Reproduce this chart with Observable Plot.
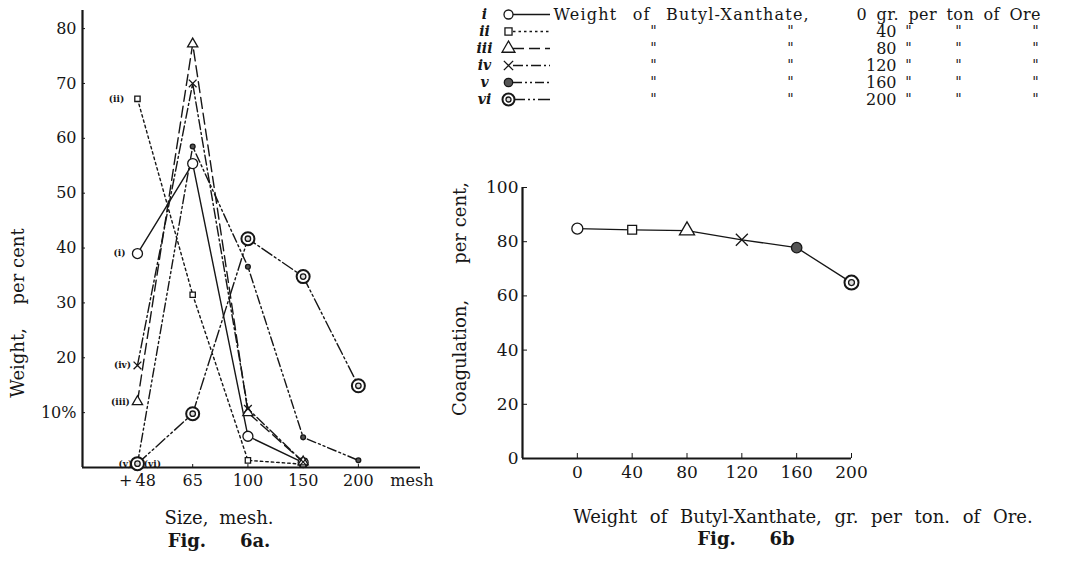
<!DOCTYPE html>
<html>
<head>
<meta charset="utf-8">
<script src="https://cdn.jsdelivr.net/npm/d3@7"></script>
<script src="https://cdn.jsdelivr.net/npm/@observablehq/plot@0.6"></script>
<style>
  body { margin: 0; background: #fff; }
  #page { position: relative; width: 1070px; height: 586px; overflow: hidden; background: #fff;
          font-family: "DejaVu Serif", serif; color: #161616; }
  .abs { position: absolute; }
  .cap { position: absolute; transform: translateX(-50%); white-space: nowrap; font-size: 18px;
         line-height: 18px; word-spacing: 5px; }
  .wide { word-spacing: 7px; }
  .fig { font-weight: bold; font-size: 18px; }
</style>
</head>
<body>
<div id="page">
  <div id="left" class="abs" style="left:0;top:0"></div>
  <div id="right" class="abs" style="left:430px;top:170px"></div>
  <div id="legend" class="abs" style="left:470px;top:0"></div>
  <div class="cap" style="left:219px;top:509px">Size, mesh.</div>
  <div class="cap fig" style="left:219px;top:532px">Fig.&nbsp;&nbsp; 6a.</div>
  <div class="cap wide" style="left:803px;top:508px">Weight of Butyl-Xanthate, gr. per ton. of Ore.</div>
  <div class="cap fig" style="left:746px;top:530px">Fig.&nbsp;&nbsp; 6b</div>
</div>
<script>
// ---------- data ----------
const meshLabels = ["+\u200948", "65", "100", "150", "200"];
const seriesNames = ["i", "ii", "iii", "iv", "v", "vi"];
const seriesLabels = ["(i)", "(ii)", "(iii)", "(iv)", "(v)", "(vi)"];
// Fig 6a: weight per cent retained at each mesh size (+48, 65, 100, 150, 200)
const sizeI   = [39.0, 55.4, 5.7, 0.9, null];
const sizeII  = [67.2, 31.5, 1.3, 0.6, null];
const sizeIII = [12.0, 77.2, 10.0, 1.0, null];
const sizeIV  = [18.6, 70.0, 10.7, 1.0, null];
const sizeV   = [0.7, 58.5, 36.6, 5.5, 1.3];
const sizeVI  = [0.7, 9.8, 41.7, 34.8, 14.9];
const sizeSeries = [sizeI, sizeII, sizeIII, sizeIV, sizeV, sizeVI];
// Fig 6b: coagulation per cent vs weight of butyl-xanthate
const doses = [0, 40, 80, 120, 160, 200];
const coagulation = [84.8, 84.4, 84.1, 80.7, 77.8, 64.9];
// ticks
const yTicksA = [10, 20, 30, 40, 50, 60, 70, 80];
const yTicksB = [0, 20, 40, 60, 80, 100];
const xTicksB = [0, 40, 80, 120, 160, 200];
const legendDose = ["0 gr. per ton of Ore", "40", "80", "120", "160", "200"];
const ditto = "\"";

// ---------- styles ----------
const ink = "#161616";
const font = "DejaVu Serif";
const dashes = [null, "2.5,3", "11,5", "10,3,2,3", "9,3,2,3,2,3", "12,3,2,3,2,3"];
const labelDx = [-18, -21, -17, -15, -12, 15];

function marker(k, data, opts, s) {
  const base = {stroke: ink, strokeWidth: 1.3, ...opts};
  switch (k) {
    case 0: return [Plot.dot(data, {...base, r: s.circle, fill: "white"})];
    case 1: return [Plot.dot(data, {...base, symbol: "square", r: s.square, fill: "white"})];
    case 2: return [Plot.dot(data, {...base, symbol: "triangle", r: s.triangle, fill: "white"})];
    case 3: return [Plot.dot(data, {...base, symbol: "times", r: s.times})];
    case 4: return [Plot.dot(data, {...base, r: s.filled, fill: "#555"})];
    case 5: return [
      Plot.dot(data, {...base, r: s.ring, fill: "white", strokeWidth: 2}),
      Plot.dot(data, {...base, r: s.ring * 0.42, fill: "#ddd", strokeWidth: 1.3})
    ];
  }
}

// ---------- Fig 6a ----------
const rowsA = sizeSeries.map((vals, k) =>
  vals.map((v, i) => ({series: seriesNames[k], k, i, value: v})).filter(d => d.value != null));
const xDomA = [-0.995, 5.36];
const yDomA = [0, 83.3];
const sizesA = {circle: 5, square: 3, triangle: 3.8, times: 3.6, filled: 2.4, ring: 6.5};

const left = Plot.plot({
  width: 440, height: 500,
  marginLeft: 82, marginRight: 7, marginTop: 10, marginBottom: 33,
  x: {domain: xDomA, axis: null},
  y: {domain: yDomA, axis: null},
  style: {fontFamily: font, color: ink, background: "transparent", overflow: "visible"},
  marks: [
    Plot.ruleX([xDomA[0]], {stroke: ink, strokeWidth: 2.2}),
    Plot.ruleY([yDomA[0]], {stroke: ink, strokeWidth: 2.2, insetRight: 13}),
    Plot.axisY(yTicksA, {tickSize: -3, tickPadding: 9, fontSize: 16, label: null,
      tickFormat: d => d === 10 ? "10%" : String(d)}),
    Plot.axisX(meshLabels.map((_, i) => i), {tickSize: -3, tickPadding: 10, fontSize: 16, label: null,
      tickFormat: i => meshLabels[i]}),
    Plot.text(["mesh"], {frameAnchor: "bottom-right", textAnchor: "end", lineAnchor: "top", dy: 7, fontSize: 16}),
    ...rowsA.map((rows, k) => Plot.line(rows, {x: "i", y: "value", stroke: ink, strokeWidth: 1.4,
      strokeDasharray: dashes[k]})),
    ...rowsA.flatMap((rows, k) => marker(k, rows, {x: "i", y: "value"}, sizesA)),
    Plot.text(rowsA.map(rows => rows[0]), {x: "i", y: "value", text: d => seriesLabels[d.k],
      fontSize: 9, fontWeight: "bold", fill: ink}),
    Plot.text(["Weight,\u2003 per cent"], {frameAnchor: "left", textAnchor: "middle", rotate: -90,
      dx: -64, dy: 74, fontSize: 18, fill: ink})
  ]
});
document.getElementById("left").append(left);
// per-series offsets of the (i)…(vi) labels
left.querySelectorAll("text").forEach(t => {
  const idx = seriesLabels.indexOf(t.textContent);
  if (idx >= 0) t.setAttribute("dx", labelDx[idx]);
});

// ---------- Fig 6b ----------
const rowsB = doses.map((d, k) => ({dose: d, value: coagulation[k], k}));
const xDomB = [-40, 200];
const yDomB = [0, 100];
const sizesB = {circle: 5.5, square: 5, triangle: 5.6, times: 5.5, filled: 5.2, ring: 7};

const right = Plot.plot({
  width: 460, height: 330,
  marginLeft: 92, marginRight: 39, marginTop: 17, marginBottom: 42,
  x: {domain: xDomB, axis: null},
  y: {domain: yDomB, axis: null},
  style: {fontFamily: font, color: ink, background: "transparent", overflow: "visible"},
  marks: [
    Plot.ruleX([xDomB[0]], {stroke: ink, strokeWidth: 2.2}),
    Plot.ruleY([yDomB[0]], {stroke: ink, strokeWidth: 2.2}),
    Plot.axisY(yTicksB, {tickSize: -5, tickPadding: 9, fontSize: 17, label: null}),
    Plot.axisX(xTicksB, {tickSize: -5, tickPadding: 12, fontSize: 17, label: null}),
    Plot.line(rowsB, {x: "dose", y: "value", stroke: ink, strokeWidth: 1.3}),
    ...rowsB.flatMap(r => marker(r.k, [r], {x: "dose", y: "value"}, sizesB)),
    Plot.text(["Coagulation,\u2003\u2003per cent,"], {frameAnchor: "left", textAnchor: "middle", rotate: -90,
      dx: -62, dy: -24, fontSize: 18, fill: ink})
  ]
});
document.getElementById("right").append(right);

// ---------- Legend ----------
const sizesL = {circle: 4.5, square: 4, triangle: 4.8, times: 4.3, filled: 4.2, ring: 6};
const legendRows = seriesNames.map((s, k) => ({s, k}));
const legend = Plot.plot({
  width: 600, height: 112,
  marginLeft: 0, marginRight: 0, marginTop: 12, marginBottom: 11,
  y: {type: "point", domain: seriesNames, padding: 0, axis: null},
  style: {fontFamily: font, color: ink, background: "transparent", overflow: "visible"},
  marks: [
    Plot.text(legendRows, {y: "s", text: "s", frameAnchor: "left", textAnchor: "middle", dx: 14,
      fontStyle: "italic", fontWeight: "bold", fontSize: 14, fill: ink}),
    ...legendRows.map(r => Plot.ruleY([r.s], {stroke: ink, strokeWidth: 1.3, insetLeft: 43, insetRight: 520,
      strokeDasharray: dashes[r.k]})),
    ...legendRows.flatMap(r => marker(r.k, [r], {y: "s", frameAnchor: "left", dx: 38}, sizesL)),
    Plot.text(legendRows.slice(0, 1), {y: "s", text: () => "Weight of Butyl-Xanthate,", frameAnchor: "left",
      dx: 83, textAnchor: "start", fontSize: 16, fill: ink}),
    Plot.text(legendRows.slice(0, 1), {y: "s", text: () => legendDose[0], frameAnchor: "left",
      dx: 386, textAnchor: "start", fontSize: 16, fill: ink}),
    Plot.text(legendRows.slice(1), {y: "s", text: r => legendDose[r.k], frameAnchor: "left",
      dx: 426, textAnchor: "end", fontSize: 16, fill: ink}),
    ...[183, 320, 438, 488, 565].map(dx => Plot.text(legendRows.slice(1), {y: "s", text: () => ditto,
      frameAnchor: "left", textAnchor: "middle", dx, fontSize: 14, fontStyle: "italic", fill: ink}))
  ]
});
document.getElementById("legend").append(legend);
legend.querySelectorAll("text").forEach(t => {
  if (t.textContent.startsWith("Weight")) t.setAttribute("style", "word-spacing:9px;letter-spacing:1.2px");
  if (t.textContent.startsWith("0 gr")) t.setAttribute("style", "word-spacing:4px;letter-spacing:0.4px");
});
</script>
</body>
</html>
